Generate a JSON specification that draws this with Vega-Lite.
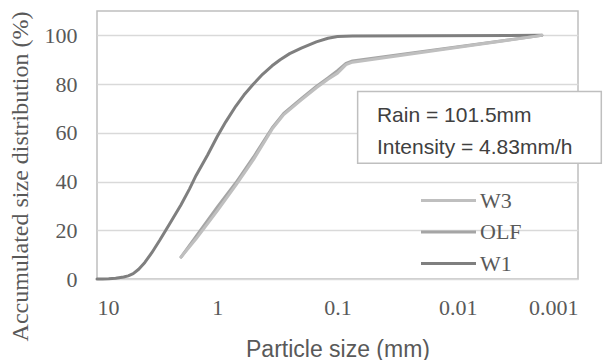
{
  "$schema": "https://vega.github.io/schema/vega-lite/v6.json",
  "width": 481,
  "height": 268,
  "autosize": "none",
  "padding": {"left": 97, "top": 11, "right": 27, "bottom": 81},
  "background": "white",
  "config": {
    "view": {"stroke": "#BFBFBF", "strokeWidth": 1.5},
    "axis": {"labelFont": "Liberation Serif", "labelFontSize": 22, "labelColor": "#595959", "titleColor": "#595959", "ticks": false, "domain": false, "gridColor": "#D9D9D9", "gridWidth": 1.5}
  },
  "datasets": {
    "curves": [
      {"size": 10, "pct": 0, "sample": "W1"},
      {"size": 9, "pct": 0, "sample": "W1"},
      {"size": 8, "pct": 0.1, "sample": "W1"},
      {"size": 7, "pct": 0.3, "sample": "W1"},
      {"size": 6, "pct": 0.8, "sample": "W1"},
      {"size": 5.5, "pct": 1.3, "sample": "W1"},
      {"size": 5, "pct": 2.2, "sample": "W1"},
      {"size": 4.5, "pct": 4, "sample": "W1"},
      {"size": 4, "pct": 6.8, "sample": "W1"},
      {"size": 3.5, "pct": 10.8, "sample": "W1"},
      {"size": 3, "pct": 16, "sample": "W1"},
      {"size": 2.5, "pct": 22.5, "sample": "W1"},
      {"size": 2, "pct": 30.5, "sample": "W1"},
      {"size": 1.7, "pct": 37, "sample": "W1"},
      {"size": 1.5, "pct": 42.5, "sample": "W1"},
      {"size": 1.2, "pct": 51, "sample": "W1"},
      {"size": 1, "pct": 58.5, "sample": "W1"},
      {"size": 0.85, "pct": 64.5, "sample": "W1"},
      {"size": 0.7, "pct": 71, "sample": "W1"},
      {"size": 0.6, "pct": 75.5, "sample": "W1"},
      {"size": 0.5, "pct": 80, "sample": "W1"},
      {"size": 0.42, "pct": 84, "sample": "W1"},
      {"size": 0.35, "pct": 87.5, "sample": "W1"},
      {"size": 0.3, "pct": 90, "sample": "W1"},
      {"size": 0.25, "pct": 92.5, "sample": "W1"},
      {"size": 0.2, "pct": 94.8, "sample": "W1"},
      {"size": 0.15, "pct": 97.3, "sample": "W1"},
      {"size": 0.12, "pct": 98.8, "sample": "W1"},
      {"size": 0.1, "pct": 99.5, "sample": "W1"},
      {"size": 0.075, "pct": 99.7, "sample": "W1"},
      {"size": 0.002, "pct": 100, "sample": "W1"},
      {"size": 2, "pct": 9, "sample": "OLF"},
      {"size": 1.5, "pct": 17.5, "sample": "OLF"},
      {"size": 1, "pct": 29.5, "sample": "OLF"},
      {"size": 0.7, "pct": 39.5, "sample": "OLF"},
      {"size": 0.5, "pct": 50, "sample": "OLF"},
      {"size": 0.35, "pct": 62, "sample": "OLF"},
      {"size": 0.28, "pct": 68, "sample": "OLF"},
      {"size": 0.2, "pct": 74, "sample": "OLF"},
      {"size": 0.15, "pct": 79, "sample": "OLF"},
      {"size": 0.12, "pct": 82.5, "sample": "OLF"},
      {"size": 0.1, "pct": 85.5, "sample": "OLF"},
      {"size": 0.085, "pct": 88.5, "sample": "OLF"},
      {"size": 0.075, "pct": 89.5, "sample": "OLF"},
      {"size": 0.002, "pct": 100, "sample": "OLF"},
      {"size": 2, "pct": 9, "sample": "W3"},
      {"size": 1.5, "pct": 16.5, "sample": "W3"},
      {"size": 1, "pct": 28, "sample": "W3"},
      {"size": 0.7, "pct": 38.5, "sample": "W3"},
      {"size": 0.5, "pct": 49, "sample": "W3"},
      {"size": 0.35, "pct": 61.5, "sample": "W3"},
      {"size": 0.28, "pct": 67.5, "sample": "W3"},
      {"size": 0.2, "pct": 73.5, "sample": "W3"},
      {"size": 0.15, "pct": 78.5, "sample": "W3"},
      {"size": 0.12, "pct": 82, "sample": "W3"},
      {"size": 0.1, "pct": 84.5, "sample": "W3"},
      {"size": 0.085, "pct": 88, "sample": "W3"},
      {"size": 0.075, "pct": 89, "sample": "W3"},
      {"size": 0.002, "pct": 100, "sample": "W3"}
    ],
    "box": [
      {"x1": 0.068, "x2": 0.00064, "y1": 47.5, "y2": 77}
    ],
    "note": [
      {"x": 0.047, "y": 66.8, "label": "Rain = 101.5mm"},
      {"x": 0.047, "y": 53.7, "label": "Intensity = 4.83mm/h"}
    ]
  },
  "layer": [
    {
      "data": {"name": "curves"},
      "mark": {"type": "line", "strokeWidth": 3, "interpolate": "linear", "strokeCap": "round", "strokeJoin": "round"},
      "encoding": {
        "x": {"field": "size", "type": "quantitative",
          "scale": {"type": "log", "domain": [0.001, 10], "reverse": true, "nice": false},
          "axis": {"values": [10, 1, 0.1, 0.01, 0.001], "format": "~g", "grid": false, "labelPadding": 18,
            "title": "Particle size (mm)", "titleFont": "Liberation Sans", "titleFontSize": 23, "titleFontWeight": "normal", "titlePadding": 20}},
        "y": {"field": "pct", "type": "quantitative",
          "scale": {"domain": [0, 110], "nice": false},
          "axis": {"values": [0, 20, 40, 60, 80, 100], "grid": true, "labelPadding": 20,
            "title": "Accumulated size distribution (%)", "titleFont": "Liberation Serif", "titleFontSize": 24, "titleFontWeight": "normal", "titlePadding": 12, "titleY": 165}},
        "color": {"field": "sample", "type": "nominal",
          "scale": {"domain": ["W3", "OLF", "W1"], "range": ["#BFBFBF", "#A5A5A5", "#7F7F7F"]},
          "legend": {"orient": "none", "legendX": 339, "legendY": 177, "title": null,
            "symbolType": "M-2.5,0H2.5", "symbolSize": 484, "symbolStrokeWidth": 3,
            "labelFont": "Liberation Serif", "labelFontSize": 22, "labelColor": "#595959", "labelOffset": 19, "rowPadding": 7.5}},
        "order": {"field": "size", "type": "quantitative", "sort": "descending"}
      }
    },
    {
      "data": {"name": "box"},
      "mark": {"type": "rect", "fill": "white", "stroke": "#BFBFBF", "strokeWidth": 1.5, "clip": false},
      "encoding": {
        "x": {"field": "x1", "type": "quantitative"},
        "x2": {"field": "x2"},
        "y": {"field": "y1", "type": "quantitative"},
        "y2": {"field": "y2"}
      }
    },
    {
      "data": {"name": "note"},
      "mark": {"type": "text", "align": "left", "baseline": "middle", "font": "Liberation Sans", "fontSize": 21, "color": "#404040", "clip": false},
      "encoding": {
        "x": {"field": "x", "type": "quantitative"},
        "y": {"field": "y", "type": "quantitative"},
        "text": {"field": "label"}
      }
    }
  ]
}
